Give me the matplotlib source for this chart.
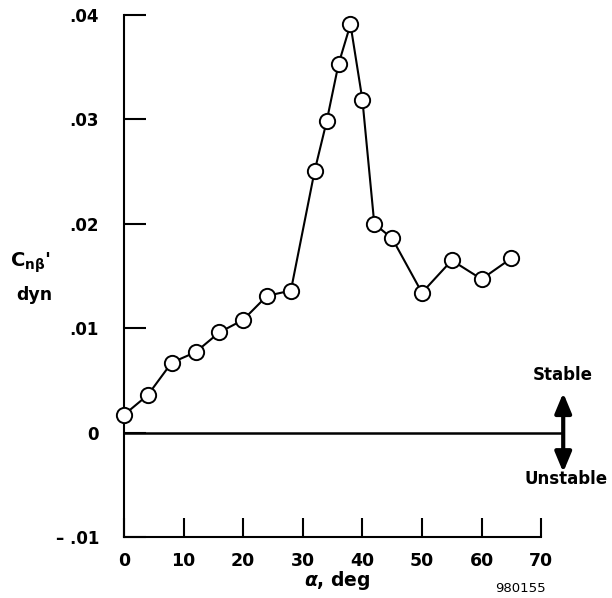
import matplotlib
matplotlib.use("Agg")
import matplotlib.pyplot as plt

# (angle of attack, deg / dynamic directional stability)
alpha_deg = [0, 4, 8, 12, 16, 20, 24, 28, 32, 34, 36, 38, 40, 42, 45, 50, 55, 60, 65]
cn_beta_dyn = [0.0017, 0.0036, 0.0067, 0.0077, 0.0096, 0.0108, 0.0131, 0.0136,
               0.0251, 0.0298, 0.0353, 0.0391, 0.0319, 0.0200, 0.0186, 0.0134,
               0.0165, 0.0147, 0.0167]

x_ticks = [0, 10, 20, 30, 40, 50, 60, 70]
y_ticks = [-0.01, 0.0, 0.01, 0.02, 0.03, 0.04]
y_tick_labels = ["\u2013 .01", "0", ".01", ".02", ".03", ".04"]

plt.rcParams["font.family"] = ["DejaVu Sans"]
plt.rcParams["font.weight"] = "bold"

W, H = 612, 598
fig = plt.figure(figsize=(W / 100, H / 100), dpi=100)
ax = fig.add_axes([124 / W, 61 / H, 441 / W, 522 / H])

ax.set_xlim(0, 74)
ax.set_ylim(-0.01, 0.04)

# zero line + stable/unstable arrow
ax.plot([0, 73.7], [0, 0], color="black", lw=1.8, clip_on=False)
ax.annotate("", xy=(73.7, 0.0038), xytext=(73.7, -0.0038),
            arrowprops=dict(arrowstyle="<|-|>,head_length=1.2,head_width=0.5",
                            lw=3, color="black", shrinkA=0, shrinkB=0),
            annotation_clip=False)
ax.text(73.7, 0.0055, "Stable", ha="center", va="center", fontsize=12,
        fontweight="bold")
ax.text(74.2, -0.0044, "Unstable", ha="center", va="center", fontsize=12,
        fontweight="bold")

ax.plot(alpha_deg, cn_beta_dyn, "-o", color="black", lw=1.5, ms=11,
        mfc="white", mec="black", mew=1.4, clip_on=False, zorder=3)

for side in ("top", "right"):
    ax.spines[side].set_visible(False)
for side in ("left", "bottom"):
    ax.spines[side].set_linewidth(1.5)
ax.spines["bottom"].set_bounds(0, 70)

ax.set_xticks(x_ticks)
ax.set_xticklabels([str(t) for t in x_ticks])
ax.set_yticks(y_ticks)
ax.set_yticklabels(y_tick_labels)
ax.tick_params(axis="x", direction="in", length=14, width=1.5, pad=11,
               labelsize=12.5)
ax.tick_params(axis="y", direction="in", length=16, width=1.5, pad=18,
               labelsize=12)

fig.text(30 / W, 1 - 263 / H, r"$\mathbf{C_{n\beta}}$'", ha="center",
         va="center", fontsize=14)
fig.text(34 / W, 1 - 295 / H, "dyn", ha="center", va="center", fontsize=12.5)
fig.text(337 / W, 1 - 580 / H, r"$\alpha$, deg", ha="center", va="center",
         fontsize=13.5)
fig.text(520 / W, 1 - 588 / H, "980155", ha="center", va="center",
         fontsize=9.5, fontweight="normal")

fig.savefig("out.png", dpi=100)
